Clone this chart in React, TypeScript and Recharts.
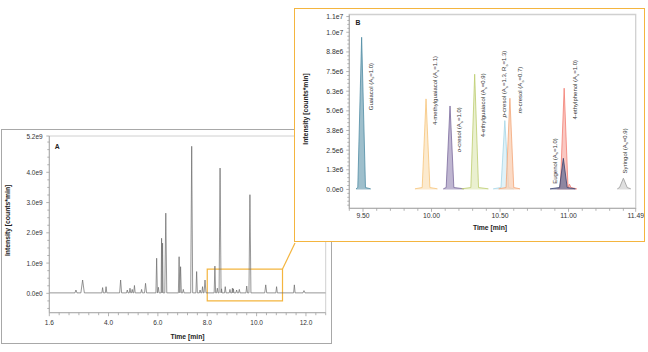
import React from 'react';
import { ComposedChart, Line, Area, XAxis, YAxis, ReferenceArea, ReferenceDot, Label } from 'recharts';

const FONT = '"Liberation Sans", Arial, Helvetica, sans-serif';
const ORANGE = '#f4b53f';
const AXIS_GRAY = '#a0a0a0';
const FRAME_GRAY = '#d0d0d0';
const TEXT = '#333333';

// ---------------- Panel A : full chromatogram ----------------
const peakTimeA = [2.68, 2.95, 3.76, 3.90, 4.49, 4.76, 4.87, 4.96, 5.05, 5.34, 5.50, 5.95, 6.02, 6.15, 6.19, 6.32, 6.86, 6.92, 7.03, 7.37, 7.57, 7.71, 7.81, 7.91, 8.31, 8.41, 8.52, 8.58, 8.73, 8.92, 9.02, 9.06, 9.19, 9.30, 9.60, 9.73, 10.37, 10.81, 11.53, 11.92];
const peakHeightA = [0.11, 0.44, 0.19, 0.22, 0.44, 0.11, 0.17, 0.13, 0.26, 0.13, 0.33, 1.16, 0.20, 1.82, 1.66, 2.65, 1.21, 0.88, 0.13, 4.86, 0.72, 0.11, 0.22, 0.44, 0.90, 0.17, 4.14, 0.15, 0.22, 0.13, 0.17, 0.15, 0.11, 0.13, 0.24, 3.26, 0.28, 0.22, 0.28, 0.09]; // x1e9
const peakHalfWidthA = [0.04, 0.07, 0.03, 0.03, 0.04, 0.03, 0.03, 0.03, 0.03, 0.03, 0.04, 0.03, 0.03, 0.02, 0.02, 0.04, 0.03, 0.03, 0.03, 0.04, 0.03, 0.03, 0.03, 0.04, 0.03, 0.03, 0.04, 0.02, 0.03, 0.03, 0.02, 0.02, 0.03, 0.03, 0.03, 0.04, 0.04, 0.03, 0.03, 0.04];
const baselineA = 0.015; // x1e9
const domainXA: [number, number] = [1.6, 12.8];
const domainYA: [number, number] = [-0.64e9, 5.2e9];
const xMajorA = [1.6, 4.0, 6.0, 8.0, 10.0, 12.0];
const xLabelsA = ['1.6', '4.0', '6.0', '8.0', '10.0', '12.0'];
const xMinorStepA = 0.4;
const yMajorA = [0, 1e9, 2e9, 3e9, 4e9, 5.2e9];
const yLabelsA = ['0.0e0', '1.0e9', '2.0e9', '3.0e9', '4.0e9', '5.2e9'];
const yMinorStepA = 0.25e9;
const zoomBoxA = { x1: 8.0, x2: 11.05, y1: -0.25e9, y2: 0.8e9 };

// ---------------- Panel B : zoomed region ----------------
const compoundsB = ['Guaiacol', '4-methylguaiacol', 'o-cresol', '4-ethylguaiacol', 'p-cresol', 'm-cresol', '4-ethylphenol', 'Eugenol', 'Syringol'];
const apexTimeB = [9.49, 9.96, 10.135, 10.315, 10.535, 10.572, 10.968, 10.962, 11.40];
const apexHeightB = [9.68, 5.76, 5.31, 7.33, 4.38, 5.80, 6.44, 1.98, 0.71]; // x1e6
const traceStartB = [9.449, 9.879, 10.086, 10.22, 10.45, 10.49, 10.92, 10.865, 11.356];
const traceEndB = [9.556, 10.043, 10.237, 10.415, 10.60, 10.646, 11.06, 11.05, 11.454];
const shoulderB: ([number, number] | null)[] = [null, null, null, null, null, null, [11.006, 0.34], null, null];
const labelsB = [
  'Guaiacol (A_s=1.0)',
  '4-methylguaiacol (A_s=1.1)',
  '*o*-cresol (A_s=1.0)',
  '4-ethylguaiacol (A_s=0.9)',
  '*p*-cresol (A_s=1.3, R_s=1.3)',
  '*m*-cresol (A_s=0.7)',
  '4-ethylphenol (A_s=1.0)',
  'Eugenol (A_s=1.0)',
  'Syringol (A_s=0.9)',
];
const strokeB = ['#4f8ba3', '#f6c47a', '#7a6a9c', '#bccd6e', '#a6d6e6', '#f2a677', '#f27d72', '#3a4270', '#9a9a9a'];
const fillB = ['#7eaabb', '#fbe3bd', '#a99dc2', '#e3ebc0', '#d7eef5', '#f9cfb3', '#f8b5ae', '#6b7096', '#d4d4d4'];
// label anchor (top end of the vertical text) in data units
const labelTimeB = [9.555, 10.026, 10.199, 10.378, 10.529, 10.644, 11.046, 10.898, 11.409];
const labelTopB = [8.05, 8.49, 5.23, 7.39, 8.83, 7.81, 8.24, 3.26, 3.89]; // x1e6
const domainXB: [number, number] = [9.40, 11.49];
const domainYB: [number, number] = [-1.2e6, 1.113e7];
const xMajorB = [9.5, 10.0, 10.5, 11.0, 11.49];
const xLabelsB = ['9.50', '10.00', '10.50', '11.00', '11.49'];
const xMinorStepB = 0.1;
const yMajorB = [0, 1.25e6, 2.5e6, 3.75e6, 5e6, 6.25e6, 7.5e6, 8.75e6, 1e7, 1.1e7];
const yLabelsB = ['0.0e0', '1.3e6', '2.5e6', '3.8e6', '5.0e6', '6.3e6', '7.5e6', '8.8e6', '1.0e7', '1.1e7'];
const yMinorStepB = 0.25e6;

// ---------------- helpers ----------------
const near = (a: number, b: number) => Math.abs(a - b) <= Math.max(Math.abs(a), Math.abs(b), 1) * 1e-7;
function tickList(major: number[], from: number, to: number, step: number): number[] {
  const out: number[] = [...major];
  const n = Math.round((to - from) / step);
  for (let k = 0; k <= n; k++) {
    const v = +(from + k * step).toPrecision(10);
    if (v >= from - 1e-12 && !out.some((m) => near(m, v))) out.push(v);
  }
  return out.sort((a, b) => a - b);
}

const xTicksA = tickList(xMajorA, 1.6, 12.8, xMinorStepA);
const yTicksA = tickList(yMajorA, -0.5e9, 5.0e9, yMinorStepA);
const xTicksB = tickList(xMajorB, 9.4, 11.4, xMinorStepB);
const yTicksB = tickList(yMajorB, -1.0e6, 1.1e7, yMinorStepB);

const traceA = (() => {
  const pts: { t: number; v: number }[] = [{ t: domainXA[0], v: baselineA * 1e9 }];
  peakTimeA.forEach((t, i) => {
    const w = peakHalfWidthA[i];
    pts.push({ t: t - w, v: baselineA * 1e9 }, { t, v: peakHeightA[i] * 1e9 }, { t: t + w, v: baselineA * 1e9 });
  });
  pts.push({ t: domainXA[1], v: baselineA * 1e9 });
  return pts.sort((a, b) => a.t - b.t);
})();

const SKIRT = 0.028;
const B0 = 0.04e6;
const B1 = 0.12e6;
const tracesB = compoundsB.map((_, i) => {
  const t = apexTimeB[i];
  const pts: { t: number; v: number }[] = [
    { t: traceStartB[i], v: B0 },
    { t: t - SKIRT, v: B1 },
    { t, v: apexHeightB[i] * 1e6 },
    { t: t + SKIRT, v: B1 },
  ];
  const sh = shoulderB[i];
  if (sh) pts.push({ t: sh[0] - 0.008, v: B1 }, { t: sh[0], v: sh[1] * 1e6 }, { t: sh[0] + 0.012, v: B1 });
  pts.push({ t: traceEndB[i], v: B0 });
  return pts.sort((a, b) => a.t - b.t);
});

function makeXTick(major: number[], labels: string[], majorLen: number, minorLen: number, fontSize: number, gap: number) {
  return (props: any) => {
    const { x, y, payload } = props;
    const i = major.findIndex((m) => near(m, payload.value));
    const len = i >= 0 ? majorLen : minorLen;
    return (
      <g>
        <line x1={x} x2={x} y1={y} y2={y + len} stroke={AXIS_GRAY} strokeWidth={0.8} />
        {i >= 0 && (
          <text x={x} y={y + gap} textAnchor="middle" dominantBaseline="central" fontSize={fontSize} fill={TEXT} fontFamily={FONT}>
            {labels[i]}
          </text>
        )}
      </g>
    );
  };
}

function makeYTick(major: number[], labels: string[], majorLen: number, minorLen: number, fontSize: number, gap: number) {
  return (props: any) => {
    const { x, y, payload } = props;
    const i = major.findIndex((m) => near(m, payload.value));
    const len = i >= 0 ? majorLen : minorLen;
    return (
      <g>
        <line x1={x - len} x2={x} y1={y} y2={y} stroke={AXIS_GRAY} strokeWidth={0.8} />
        {i >= 0 && (
          <text x={x - gap} y={y} textAnchor="end" dominantBaseline="central" fontSize={fontSize} fill={TEXT} fontFamily={FONT}>
            {labels[i]}
          </text>
        )}
      </g>
    );
  };
}

const xTitle = (text: string, dy: number, dx = 0) => (p: any) => {
  const vb = p.viewBox || {};
  return (
    <text x={vb.x + vb.width / 2 + dx} y={vb.y + dy} textAnchor="middle" dominantBaseline="central" fontSize={6.8} fontWeight="bold" fill="#222" fontFamily={FONT}>
      {text}
    </text>
  );
};

const yTitle = (text: string, cx: number, dy: number) => (p: any) => {
  const vb = p.viewBox || {};
  const cy = vb.y + vb.height / 2 + dy;
  return (
    <text x={cx} y={cy} transform={`rotate(-90 ${cx} ${cy})`} textAnchor="middle" dominantBaseline="central" fontSize={6.8} fontWeight="bold" fill="#222" fontFamily={FONT}>
      {text}
    </text>
  );
};

function RichVertical({ cx, cy, text, fontSize }: { cx: number; cy: number; text: string; fontSize: number }) {
  const parts = text.split(/(\*[^*]+\*|_\w)/).filter((s) => s.length > 0);
  const shift = fontSize * 0.3;
  let down = false;
  const spans = parts.map((p, k) => {
    if (p.startsWith('_')) {
      down = true;
      return (
        <tspan key={k} fontSize={fontSize * 0.7} dy={shift}>
          {p.slice(1)}
        </tspan>
      );
    }
    const dy = down ? -shift : undefined;
    down = false;
    if (p.startsWith('*')) {
      return (
        <tspan key={k} fontStyle="italic" dy={dy}>
          {p.slice(1, -1)}
        </tspan>
      );
    }
    return (
      <tspan key={k} dy={dy}>
        {p}
      </tspan>
    );
  });
  return (
    <text x={cx} y={cy} transform={`rotate(-90 ${cx} ${cy})`} textAnchor="end" dominantBaseline="central" fontSize={fontSize} fill={TEXT} fontFamily={FONT}>
      {spans}
    </text>
  );
}

function ChartA() {
  return (
    <ComposedChart width={332} height={215} data={traceA} margin={{ top: 7, right: 6.3, bottom: 0, left: 0 }}>
      <XAxis
        type="number"
        dataKey="t"
        domain={domainXA}
        ticks={xTicksA}
        interval={0}
        allowDataOverflow
        height={31.3}
        tickSize={0}
        tickMargin={0}
        tickLine={false}
        axisLine={{ stroke: AXIS_GRAY, strokeWidth: 0.8 }}
        tick={makeXTick(xMajorA, xLabelsA, 3.5, 2.5, 6.5, 10)}
      >
        <Label content={xTitle('Time [min]', 23.3)} />
      </XAxis>
      <YAxis
        type="number"
        domain={domainYA}
        ticks={yTicksA}
        interval={0}
        allowDataOverflow
        width={49.3}
        tickSize={0}
        tickMargin={0}
        tickLine={false}
        axisLine={{ stroke: AXIS_GRAY, strokeWidth: 0.8 }}
        tick={makeYTick(yMajorA, yLabelsA, 3, 2, 6.5, 6.6)}
      >
        <Label content={yTitle('Intensity  [counts*min]', 7.3, -4)} />
      </YAxis>
      <ReferenceArea x1={domainXA[0]} x2={domainXA[1]} y1={domainYA[0]} y2={domainYA[1]} fill="none" stroke={FRAME_GRAY} strokeWidth={1} ifOverflow="visible" />
      <Line type="linear" dataKey="v" stroke="#6a6a6a" strokeWidth={0.7} dot={false} isAnimationActive={false} />
      <ReferenceArea {...zoomBoxA} fill="none" stroke={ORANGE} strokeWidth={1.2} ifOverflow="visible" />
      <ReferenceDot
        x={domainXA[0]}
        y={domainYA[1]}
        r={0}
        ifOverflow="visible"
        shape={(p: any) => (
          <text x={p.cx + 8} y={p.cy + 10} textAnchor="middle" dominantBaseline="central" fontSize={6.8} fontWeight="bold" fill="#222" fontFamily={FONT}>
            A
          </text>
        )}
      />
    </ComposedChart>
  );
}

function ChartB() {
  return (
    <ComposedChart width={348} height={233} margin={{ top: 5.5, right: 8.3, bottom: 0, left: 0 }}>
      <XAxis
        type="number"
        dataKey="t"
        domain={domainXB}
        ticks={xTicksB}
        interval={0}
        allowDataOverflow
        height={33.7}
        tickSize={0}
        tickMargin={0}
        tickLine={false}
        axisLine={{ stroke: AXIS_GRAY, strokeWidth: 0.8 }}
        tick={makeXTick(xMajorB, xLabelsB, 3.5, 2.5, 6.8, 7.6)}
      >
        <Label content={xTitle('Time [min]', 19.4, -2.5)} />
      </XAxis>
      <YAxis
        type="number"
        domain={domainYB}
        ticks={yTicksB}
        interval={0}
        allowDataOverflow
        width={53.3}
        tickSize={0}
        tickMargin={0}
        tickLine={false}
        axisLine={{ stroke: AXIS_GRAY, strokeWidth: 0.8 }}
        tick={makeYTick(yMajorB, yLabelsB, 3, 2, 6.8, 6)}
      >
        <Label content={yTitle('Intensity  [counts*min]', 9, -2.4)} />
      </YAxis>
      <ReferenceArea x1={domainXB[0]} x2={domainXB[1]} y1={domainYB[0]} y2={domainYB[1]} fill="none" stroke={FRAME_GRAY} strokeWidth={1.3} ifOverflow="visible" />
      {tracesB.map((d, i) => (
        <Area
          key={compoundsB[i]}
          data={d}
          dataKey="v"
          type="linear"
          baseValue={0}
          stroke={strokeB[i]}
          strokeWidth={0.8}
          fill={fillB[i]}
          fillOpacity={0.75}
          dot={false}
          activeDot={false}
          isAnimationActive={false}
        />
      ))}
      {labelsB.map((lab, i) => (
        <ReferenceDot
          key={'lab' + i}
          x={labelTimeB[i]}
          y={labelTopB[i] * 1e6}
          r={0}
          ifOverflow="visible"
          shape={(p: any) => <RichVertical cx={p.cx} cy={p.cy} text={lab} fontSize={6} />}
        />
      ))}
      <ReferenceDot
        x={domainXB[0]}
        y={domainYB[1]}
        r={0}
        ifOverflow="visible"
        shape={(p: any) => (
          <text x={p.cx + 8.7} y={p.cy + 8.2} textAnchor="middle" dominantBaseline="central" fontSize={6.8} fontWeight="bold" fill="#222" fontFamily={FONT}>
            B
          </text>
        )}
      />
    </ComposedChart>
  );
}

export default function App() {
  return (
    <div style={{ position: 'absolute', left: 0, top: 0, width: 648, height: 352, background: '#fff', overflow: 'hidden', fontFamily: FONT }}>
      <div style={{ position: 'absolute', left: 1, top: 129, width: 329, height: 213, border: '1px solid #a8a8a8' }} />
      <div style={{ position: 'absolute', left: 0, top: 129 }}>
        <ChartA />
      </div>
      <svg style={{ position: 'absolute', left: 0, top: 0, display: 'block' }} width={648} height={352}>
        <line x1={282.5} y1={269.1} x2={295} y2={243} stroke={ORANGE} strokeWidth={1.2} />
      </svg>
      <div style={{ position: 'absolute', left: 294, top: 8, width: 349, height: 232, border: `1.5px solid ${ORANGE}`, background: '#fff' }} />
      <div style={{ position: 'absolute', left: 296, top: 9 }}>
        <ChartB />
      </div>
    </div>
  );
}
